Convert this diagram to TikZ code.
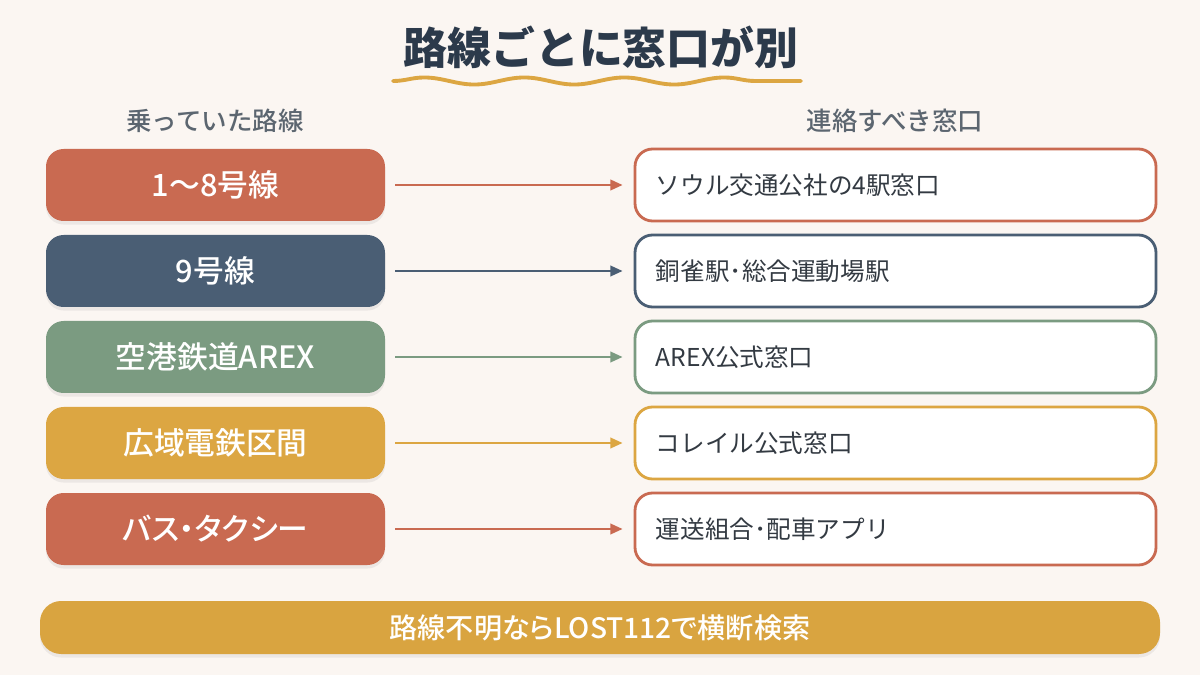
\documentclass[tikz,border=0pt]{standalone}
\usepackage{fontspec}
\setmainfont{Noto Sans CJK JP}
\newfontfamily\cjk{Noto Sans CJK JP}
\newfontfamily\cjkm{Noto Sans CJK JP}[UprightFont={* Medium}, BoldFont={* Bold}]
\newfontfamily\cjkmp{Noto Sans CJK JP}[UprightFont={* Medium}, BoldFont={* Bold}, RawFeature=+palt]
\usetikzlibrary{arrows.meta,shadows,decorations.pathmorphing}
\definecolor{bg}{HTML}{FBF6F2}
\definecolor{cred}{HTML}{C96A51}
\definecolor{cnavy}{HTML}{4A5E74}
\definecolor{cgreen}{HTML}{7B9B81}
\definecolor{cgold}{HTML}{DCA642}
\definecolor{cbar}{HTML}{D9A440}
\definecolor{ctitle}{HTML}{2C3A4B}
\definecolor{chead}{HTML}{5C6670}
\definecolor{ctext}{HTML}{333A42}
\tikzset{
  leftbox/.style={rounded corners=10pt, minimum width=339*0.02cm, minimum height=72*0.02cm,
    fill=#1, text=white, font=\cjkmp\fontsize{17.5}{20}\selectfont, inner sep=0pt,
    drop shadow={shadow xshift=0pt, shadow yshift=-2pt, opacity=0.12}},
  rightbox/.style={rounded corners=10pt, minimum width=521*0.02cm, minimum height=72*0.02cm,
    fill=white, draw=#1, line width=1.6pt, inner sep=0pt},
  rtext/.style={anchor=west, text=ctext, font=\cjk\fontsize{14}{17}\selectfont, inner sep=0pt},
  conn/.style={draw=#1, line width=1.3pt, -{Triangle[length=7pt,width=6pt]}},
  head/.style={text=chead, font=\cjkm\fontsize{14.5}{17}\selectfont}
}
\begin{document}
\begin{tikzpicture}[x=0.02cm,y=-0.02cm]
\fill[bg] (0,0) rectangle (1200,675);
\useasboundingbox (0,0) rectangle (1200,675);
% title
\node[text=ctitle, font=\cjk\bfseries\fontsize{25}{30}\selectfont] (title) at (601,47) {路線ごとに窓口が別};
\draw[cgold, line width=2.2pt, line cap=round, decorate, decoration={snake, amplitude=2pt, segment length=100*0.02cm}] (393,81) -- (801,81);
% headers
\node[head] (hl) at (215,121) {乗っていた路線};
\node[head] (hr) at (895,121) {連絡すべき窓口};
% rows
\foreach \i/\ltxt/\rtxt/\col in {
  1/{1〜8号線}/{ソウル交通公社の4駅窓口}/cred,
  2/{9号線}/{銅雀駅･総合運動場駅}/cnavy,
  3/{空港鉄道AREX}/{AREX公式窓口}/cgreen,
  4/{広域電鉄区間}/{コレイル公式窓口}/cgold,
  5/{バス・タクシー}/{運送組合･配車アプリ}/cred}{
  \pgfmathsetmacro{\yy}{185+86*(\i-1)}
  \node[leftbox=\col] (L\i) at (215.5,\yy) {\ltxt};
  \node[rightbox=\col] (R\i) at (895.5,\yy) {};
  \node[rtext] (T\i) at ([xshift=22*0.02cm]R\i.west) {\rtxt};
  \draw[conn=\col] ([xshift=10*0.02cm]L\i.east) -- ([xshift=-11*0.02cm]R\i.west);
}
% bottom bar
\node[rounded corners=12pt, minimum width=1120*0.02cm, minimum height=53*0.02cm, fill=cbar,
  text=white, font=\cjkmp\fontsize{16}{18}\selectfont, inner sep=0pt,
  drop shadow={shadow xshift=0pt, shadow yshift=-2pt, opacity=0.12}] (bar) at (600,627.5) {路線不明ならLOST112で横断検索};
\end{tikzpicture}
\end{document}
